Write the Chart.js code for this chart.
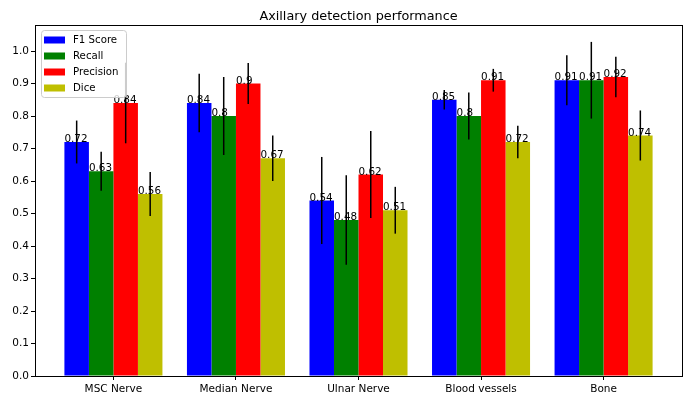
<!DOCTYPE html>
<html>
<head>
<meta charset="utf-8">
<script src="https://cdn.jsdelivr.net/npm/chart.js@4/dist/chart.umd.min.js"></script>
<style>
  html, body { margin: 0; padding: 0; background: #fff; }
  #wrap { width: 693px; height: 396px; }
</style>
</head>
<body>
<div id="wrap"><canvas id="chart" width="693" height="396"></canvas></div>
<script>
const categories = ["MSC Nerve", "Median Nerve", "Ulnar Nerve", "Blood vessels", "Bone"];
const f1Score = [0.72, 0.84, 0.54, 0.85, 0.91];
const recall = [0.63, 0.80, 0.48, 0.80, 0.91];
const precision = [0.84, 0.90, 0.62, 0.91, 0.92];
const dice = [0.56, 0.67, 0.51, 0.72, 0.74];
// error bar half-lengths (std)
const f1Err = [0.066, 0.09, 0.134, 0.03, 0.077];
const recallErr = [0.06, 0.12, 0.138, 0.072, 0.118];
const precisionErr = [0.124, 0.063, 0.134, 0.035, 0.062];
const diceErr = [0.068, 0.07, 0.072, 0.05, 0.077];
const yTicks = [0, 0.1, 0.2, 0.3, 0.4, 0.5, 0.6, 0.7, 0.8, 0.9, 1.0];
const titleText = "Axillary detection performance";

const FONT = "'DejaVu Sans', sans-serif";

function points(values) {
    return values.map((v, i) => ({ x: i, y: v }));
}

const series = [
    { label: "F1 Score", data: f1Score, err: f1Err, color: "#0000ff" },
    { label: "Recall", data: recall, err: recallErr, color: "#008000" },
    { label: "Precision", data: precision, err: precisionErr, color: "#ff0000" },
    { label: "Dice", data: dice, err: diceErr, color: "#bfbf00" }
];

// error bars + value labels + frame + legend + title
const extras = {
    id: "extras",
    afterDatasetsDraw(chart) {
        const ctx = chart.ctx;
        const y = chart.scales.y;
        ctx.save();
        chart.data.datasets.forEach((ds, di) => {
            const meta = chart.getDatasetMeta(di);
            meta.data.forEach((bar, i) => {
                const v = ds.data[i].y;
                const e = series[di].err[i];
                ctx.strokeStyle = "#000";
                ctx.lineWidth = 1.5;
                ctx.beginPath();
                ctx.moveTo(bar.x, y.getPixelForValue(v + e));
                ctx.lineTo(bar.x, y.getPixelForValue(v - e));
                ctx.stroke();
            });
        });
        ctx.font = "10.4px " + FONT;
        ctx.fillStyle = "#000";
        ctx.textAlign = "left";
        ctx.textBaseline = "alphabetic";
        chart.data.datasets.forEach((ds, di) => {
            const meta = chart.getDatasetMeta(di);
            meta.data.forEach((bar, i) => {
                const v = ds.data[i].y;
                ctx.fillText(String(v), bar.x - bar.width / 2, y.getPixelForValue(v));
            });
        });
        ctx.restore();
    },
    afterDraw(chart) {
        const ctx = chart.ctx;
        const a = chart.chartArea;
        ctx.save();
        ctx.strokeStyle = "#000";
        ctx.lineWidth = 1;
        ctx.strokeRect(Math.round(a.left) + 0.5, Math.round(a.top) + 0.5,
            Math.round(a.right - a.left), Math.round(a.bottom - a.top));

        // title, centred over the plot area
        ctx.font = "12.8px " + FONT;
        ctx.fillStyle = "#000";
        ctx.textAlign = "center";
        ctx.textBaseline = "alphabetic";
        ctx.fillText(titleText, (a.left + a.right) / 2, 20);

        // legend
        const lx = a.left + 6, ly = a.top + 5, lw = 85, lh = 67;
        ctx.fillStyle = "rgba(255,255,255,0.8)";
        ctx.strokeStyle = "#cccccc";
        ctx.beginPath();
        ctx.roundRect(lx + 0.5, ly + 0.5, lw, lh, 3);
        ctx.fill();
        ctx.stroke();
        ctx.font = "10.2px " + FONT;
        ctx.textBaseline = "middle";
        ctx.textAlign = "left";
        series.forEach((s, k) => {
            const cy = ly + 10 + k * 16;
            ctx.fillStyle = s.color;
            ctx.fillRect(lx + 3, cy - 3.5, 21, 7);
            ctx.fillStyle = "#000";
            ctx.fillText(s.label, lx + 32, cy);
        });
        ctx.restore();
    }
};

new Chart(document.getElementById("chart"), {
    type: "bar",
    data: {
        datasets: series.map(s => ({
            label: s.label,
            data: points(s.data),
            backgroundColor: s.color,
            borderWidth: 0,
            categoryPercentage: 0.8,
            barPercentage: 1.0
        }))
    },
    options: {
        responsive: false,
        animation: false,
        layout: { padding: { left: 0, right: 11, top: 25, bottom: 0 } },
        plugins: {
            legend: { display: false },
            tooltip: { enabled: false },
            title: { display: false }
        },
        scales: {
            x: {
                type: "linear",
                min: -0.64,
                max: 4.64,
                offset: false,
                afterBuildTicks: scale => {
                    scale.ticks = categories.map((c, i) => ({ value: i }));
                },
                afterFit: scale => { scale.height = 20; },
                ticks: {
                    color: "#000",
                    font: { family: FONT, size: 10.5 },
                    padding: 3,
                    maxRotation: 0,
                    autoSkip: false,
                    callback: v => categories[v]
                },
                grid: { drawOnChartArea: false, drawTicks: true, tickLength: 4, color: "#000", offset: false },
                border: { display: true, color: "#000" }
            },
            y: {
                min: 0,
                max: 1.08,
                afterBuildTicks: scale => {
                    scale.ticks = yTicks.map(v => ({ value: v }));
                },
                afterFit: scale => { scale.width = 35; },
                ticks: {
                    color: "#000",
                    font: { family: FONT, size: 10.5 },
                    padding: 2,
                    callback: v => Number(v).toFixed(1)
                },
                grid: { drawOnChartArea: false, drawTicks: true, tickLength: 4, color: "#000" },
                border: { display: true, color: "#000" }
            }
        }
    },
    plugins: [extras]
});
</script>
</body>
</html>
